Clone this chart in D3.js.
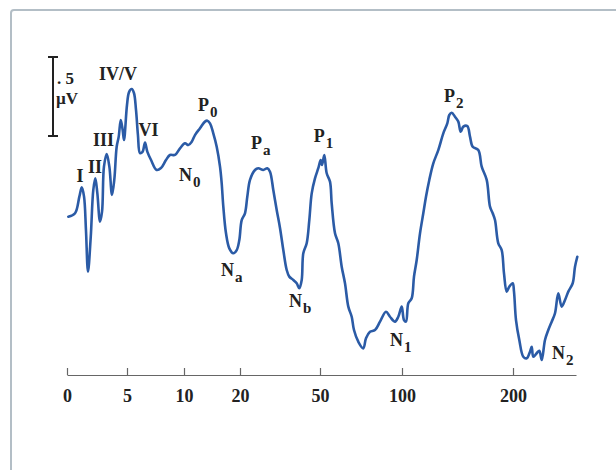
<!DOCTYPE html>
<html>
<head>
<meta charset="utf-8">
<script src="https://cdn.jsdelivr.net/npm/d3@7"></script>
<style>
  body { margin: 0; background: #fff; }
  text { font-family: "Liberation Serif", "Times New Roman", serif; font-weight: bold; fill: #222; }
</style>
</head>
<body>
<div id="vis"></div>
<script>
// time (ms) of each sample
const TIMES = [
    0.11, 0.67, 1.03, 1.23, 1.42, 1.58, 1.75, 1.98, 2.19, 2.36, 2.53, 2.75, 2.92, 3.08, 3.31, 3.53,
    3.75, 3.94, 4.14, 4.31, 4.48, 4.64, 4.75, 5.0, 5.18, 5.41, 5.61, 5.79, 5.96, 6.14, 6.36, 6.58,
    6.78, 7.11, 7.6, 7.98, 8.42, 8.77, 9.21, 9.65, 10.18, 10.77, 11.38, 11.96, 12.86, 13.75, 14.16, 14.64,
    15.23, 15.84, 16.43, 16.73, 17.02, 17.5, 18.09, 18.8, 19.41, 19.88, 20.64, 21.87, 22.74, 23.75, 25.62, 26.86,
    28.74, 30.24, 31.25, 32.49, 33.76, 35.0, 36.24, 37.51, 38.49, 39.99, 41.26, 42.24, 43.14, 43.74, 45.01, 45.99,
    46.89, 48.12, 49.36, 50.43, 51.22, 52.62, 54.09, 56.1, 57.13, 59.15, 61.16, 63.23, 65.24, 67.26, 69.33, 70.73,
    73.35, 76.4, 78.05, 80.49, 83.54, 86.59, 90.24, 92.68, 95.73, 97.74, 99.82, 101.8, 103.6, 105.68, 108.74, 110.81,
    113.24, 116.22, 119.19, 121.62, 124.59, 128.2, 132.7, 137.21, 140.81, 142.61, 144.77, 147.75, 150.72, 152.88, 155.23, 158.83,
    161.26, 163.69, 168.74, 171.8, 176.31, 179.28, 181.71, 183.78, 186.76, 189.82, 191.89, 194.32, 196.67, 199.73, 201.59, 204.76,
    210.0, 216.35, 221.75, 226.98, 229.68, 232.22, 237.62, 241.75, 245.56, 250.79, 256.03, 261.43, 266.67, 271.9, 277.3, 282.54,
    287.78, 294.76, 298.41, 302.06
]

// amplitude (µV) at each time
const VOLTS = [
    -0.011, 0.011, 0.116, 0.175, 0.116, -0.095, -0.359, -0.137, 0.158, 0.232, 0.137, -0.042, 0.021, 0.306, 0.386, 0.306,
    0.127, 0.222, 0.432, 0.496, 0.601, 0.538, 0.475, 0.696, 0.778, 0.797, 0.772, 0.665, 0.506, 0.392, 0.399, 0.458,
    0.401, 0.348, 0.285, 0.297, 0.348, 0.38, 0.38, 0.422, 0.454, 0.443, 0.464, 0.506, 0.549, 0.591, 0.597, 0.58,
    0.517, 0.432, 0.306, 0.201, 0.053, -0.116, -0.211, -0.242, -0.222, -0.158, -0.032, 0.011, 0.116, 0.222, 0.285, 0.296,
    0.285, 0.296, 0.274, 0.158, 0.032, -0.082, -0.222, -0.348, -0.39, -0.411, -0.432, -0.464, -0.411, -0.242, -0.179, -0.032,
    0.137, 0.232, 0.296, 0.348, 0.316, 0.38, 0.264, 0.211, 0.074, -0.116, -0.179, -0.327, -0.432, -0.58, -0.644, -0.728,
    -0.802, -0.844, -0.78, -0.739, -0.728, -0.675, -0.612, -0.644, -0.675, -0.644, -0.58, -0.665, -0.675, -0.559, -0.527, -0.39,
    -0.285, -0.116, 0.011, 0.116, 0.222, 0.327, 0.411, 0.517, 0.58, 0.633, 0.647, 0.622, 0.591, 0.527, 0.559, 0.563,
    0.496, 0.432, 0.411, 0.306, 0.222, 0.053, 0.011, -0.032, -0.179, -0.222, -0.369, -0.485, -0.454, -0.432, -0.485, -0.665,
    -0.791, -0.897, -0.907, -0.865, -0.834, -0.897, -0.875, -0.859, -0.918, -0.791, -0.728, -0.675, -0.622, -0.496, -0.58, -0.538,
    -0.485, -0.432, -0.327, -0.264
]

const TICKS = [0, 5, 10, 20, 50, 100, 200]

// the time axis is stretched by hand, one break per tick
const AXIS_BREAKS = [0, 5, 10, 20, 50, 100, 200, 300]

// wave names: text, subscript, time and amplitude where the label sits
const PEAK_LABELS = [
    {text: 'I', sub: '', t: 1.08, v: 0.209, anchor: 'middle'},
    {text: 'II', sub: '', t: 2.33, v: 0.266, anchor: 'middle'},
    {text: 'III', sub: '', t: 3.04, v: 0.437, anchor: 'middle'},
    {text: 'IV/V', sub: '', t: 4.25, v: 0.854, anchor: 'middle'},
    {text: 'VI', sub: '', t: 6.89, v: 0.5, anchor: 'middle'},
    {text: 'N', sub: '0', t: 9.56, v: 0.215, anchor: 'start'},
    {text: 'P', sub: '0', t: 12.5, v: 0.658, anchor: 'start'},
    {text: 'N', sub: 'a', t: 16.6, v: -0.386, anchor: 'start'},
    {text: 'P', sub: 'a', t: 24.1, v: 0.418, anchor: 'start'},
    {text: 'N', sub: 'b', t: 38.4, v: -0.582, anchor: 'start'},
    {text: 'P', sub: '1', t: 47.7, v: 0.462, anchor: 'start'},
    {text: 'N', sub: '1', t: 92.7, v: -0.829, anchor: 'start'},
    {text: 'P', sub: '2', t: 137.8, v: 0.715, anchor: 'start'},
    {text: 'N', sub: '2', t: 261.9, v: -0.911, anchor: 'start'}
]

const SCALE_BAR = [0.5, 1.0]

function render() {
    let width = 616, height = 470

    let svg = d3.select('#vis')
        .append('svg')
        .attr('width', width)
        .attr('height', height)

    // frame of the figure (runs off the right and bottom edges)
    svg.append('rect')
        .attr('x', 11)
        .attr('y', 10)
        .attr('width', 700)
        .attr('height', 600)
        .attr('rx', 3)
        .attr('fill', 'none')
        .attr('stroke', '#b3bec6')
        .attr('stroke-width', 2)

    let x = d3.scaleLinear()
        .domain(AXIS_BREAKS)
        .range([67, 127, 184, 240, 320, 402, 513, 576])

    let y = d3.scaleLinear()
        .domain([-1, 1])
        .range([373, 57])

    // time axis, ticks pointing up
    let axisY = 375
    let axis = svg.append('g')
        .attr('transform', `translate(0, ${axisY})`)
        .call(d3.axisBottom(x)
            .tickValues(TICKS)
            .tickSize(-7)
            .tickSizeOuter(0)
            .tickPadding(14)
            .tickFormat(d3.format('d')))
    axis.select('.domain')
        .attr('stroke', '#666')
        .attr('stroke-width', 1.2)
    axis.selectAll('.tick line')
        .attr('stroke', '#666')
        .attr('stroke-width', 1.2)
    axis.selectAll('.tick text')
        .attr('font-family', '"Liberation Serif", serif')
        .attr('font-weight', 'bold')
        .attr('font-size', 18)
        .attr('fill', '#222')

    // the trace
    let points = TIMES.map((t, i) => [t, VOLTS[i]])
    let line = d3.line()
        .x(d => x(d[0]))
        .y(d => y(d[1]))
        .curve(d3.curveCatmullRom.alpha(0.5))

    svg.append('path')
        .datum(points)
        .attr('d', line)
        .attr('fill', 'none')
        .attr('stroke', '#2b5ba6')
        .attr('stroke-width', 2.6)
        .attr('stroke-linejoin', 'round')
        .attr('stroke-linecap', 'round')

    // calibration bar
    let barX = 53
    let bar = svg.append('g')
    bar.append('line')
        .attr('x1', barX).attr('x2', barX)
        .attr('y1', y(SCALE_BAR[0])).attr('y2', y(SCALE_BAR[1]))
        .attr('stroke', '#222').attr('stroke-width', 2)
    for (let v of SCALE_BAR) {
        bar.append('line')
            .attr('x1', barX - 5).attr('x2', barX + 5)
            .attr('y1', y(v)).attr('y2', y(v))
            .attr('stroke', '#222').attr('stroke-width', 2)
    }
    bar.append('text')
        .attr('x', barX + 4)
        .attr('y', y(0.83))
        .attr('font-size', 17)
        .text('. 5')
    bar.append('text')
        .attr('x', barX + 3)
        .attr('y', y(0.703))
        .attr('font-size', 17)
        .text('µV')

    // peak labels
    let labels = svg.append('g')
        .selectAll('text')
        .data(PEAK_LABELS)
        .enter().append('text')
        .attr('x', d => x(d.t))
        .attr('y', d => y(d.v))
        .attr('text-anchor', d => d.anchor)
        .attr('font-size', 18)

    labels.append('tspan')
        .text(d => d.text)
    labels.filter(d => d.sub)
        .append('tspan')
        .attr('dy', 6)
        .attr('dx', 1)
        .attr('font-size', 15)
        .text(d => d.sub)
}

render()
</script>
</body>
</html>
